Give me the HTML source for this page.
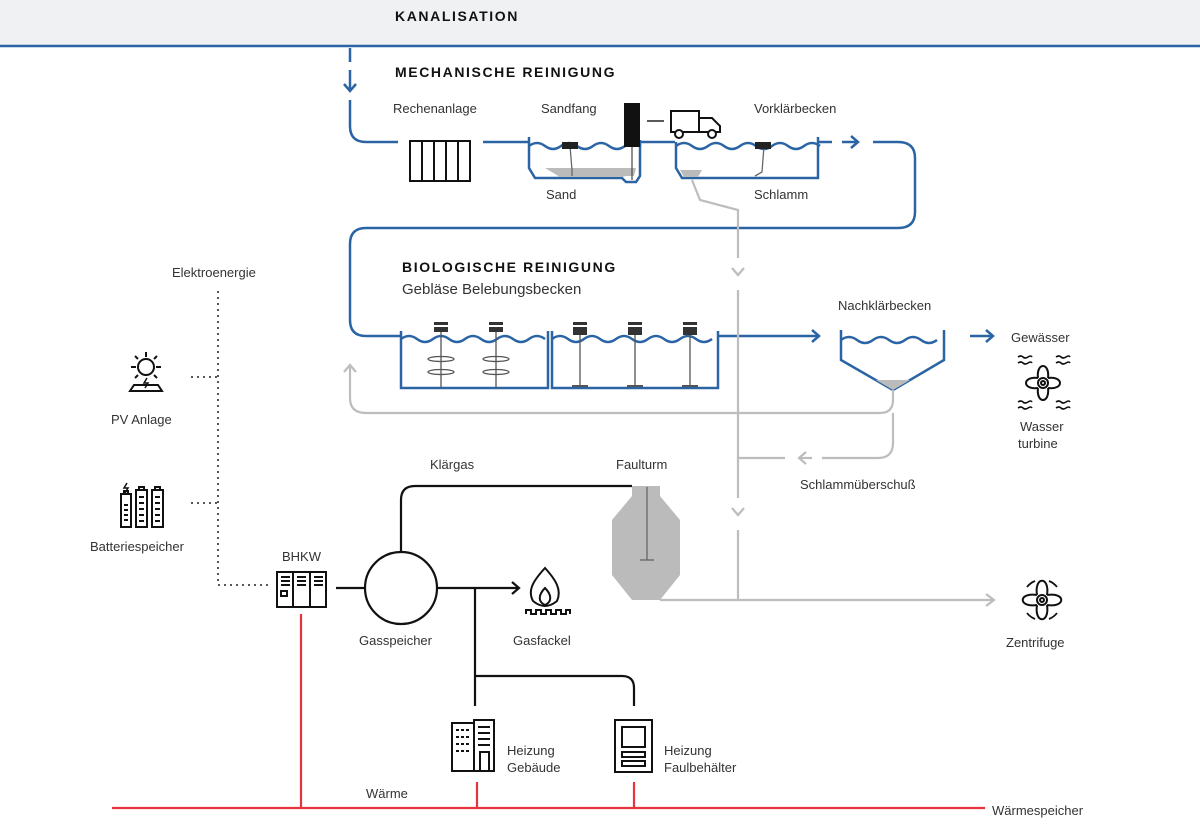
<!DOCTYPE html>
<html><head><meta charset="utf-8"><style>
html,body{margin:0;padding:0;background:#fff;}
svg{display:block;}
text{font-family:"Liberation Sans",sans-serif;font-size:13px;fill:#333;}
.h{font-weight:bold;font-size:14px;letter-spacing:1.6px;fill:#111;}
</style></head><body>
<svg width="1200" height="825" viewBox="0 0 1200 825" xmlns="http://www.w3.org/2000/svg">
<rect x="0" y="0" width="1200" height="46" fill="#eff1f2"/>
<line x1="0" y1="46" x2="1200" y2="46" stroke="#2a64a4" stroke-width="2.5"/>
<text x="395" y="21" class="h">KANALISATION</text>
<text x="395" y="77" class="h">MECHANISCHE REINIGUNG</text>
<text x="402" y="272" class="h">BIOLOGISCHE REINIGUNG</text>
<text x="402" y="294" style="font-size:15px">Gebläse Belebungsbecken</text>

<g fill="none" stroke="#2a64a4" stroke-width="2.5">
<line x1="350" y1="48" x2="350" y2="62"/>
<line x1="350" y1="70" x2="350" y2="90"/>
<polyline points="344,84 350,91 356,84"/>
<path d="M350 100 V126 Q350 142 366 142 H398"/>
<line x1="483" y1="142" x2="528" y2="142"/>
<line x1="640" y1="142" x2="675" y2="142"/>
<line x1="818" y1="142" x2="832" y2="142"/>
<line x1="842" y1="142" x2="856" y2="142"/>
<polyline points="851,136 858,142 851,148"/>
<path d="M873 142 H898 Q915 142 915 158 V212 Q915 228 898 228 H366 Q350 228 350 244 V320 Q350 336 366 336 H400"/>
<line x1="718" y1="336" x2="818" y2="336"/>
<polyline points="812,330 819,336 812,342"/>
<line x1="970" y1="336" x2="992" y2="336"/>
<polyline points="986,330 993,336 986,342"/>
<path d="M529 137 V168 L535 178 H622 L626 182 H636 L640 176 V140"/>
<path d="M529 146 q8 -6 16 0 t16 0 t16 0 t16 0 t16 0 t16 0 t16 0"/>
<path d="M676 142 V168 L682 178 H818 V137"/>
<path d="M676 146 q8 -6 16 0 t16 0 t16 0 t16 0 t16 0 t16 0 t16 0 t16 0 t16 0"/>
<path d="M401 331 V388 H548 V331"/>
<path d="M552 331 V388 H718 V331"/>
<path d="M401 339 q8 -6 16 0 t16 0 t16 0 t16 0 t16 0 t16 0 t16 0 t16 0 t16 0"/>
<path d="M552 339 q8 -6 16 0 t16 0 t16 0 t16 0 t16 0 t16 0 t16 0 t16 0 t16 0 t16 0"/>
<path d="M841 330 V360 L893 390 L944 360 V330"/>
<path d="M841 340 q8 -6 16 0 t16 0 t16 0 t16 0 t16 0 t16 0"/>
</g>
<path d="M545 168 H636 L634 176 H626 L622 177 H560 Z" fill="#bbb"/>
<path d="M680 170 H702 L698 177 H684 Z" fill="#bbb"/>
<path d="M876 380 H910 L893 390 Z" fill="#bbb"/>
<g stroke="#666" stroke-width="1.3" fill="none">
<polyline points="570,146 572,170 572,176"/>
<polyline points="764,146 762,172 755,176"/>
</g>
<rect x="562" y="142" width="16" height="7" fill="#222"/>
<rect x="755" y="142" width="16" height="7" fill="#222"/>
<rect x="624" y="103" width="16" height="44" fill="#111"/>
<line x1="632" y1="147" x2="632" y2="180" stroke="#555" stroke-width="1.3"/>
<line x1="647" y1="121" x2="664" y2="121" stroke="#222" stroke-width="1.5"/>
<g stroke="#111" stroke-width="2" fill="#fff">
<rect x="671" y="111" width="28" height="21"/>
<path d="M699 118 H712 L720 126 V132 H699 Z"/>
<circle cx="679" cy="134" r="4"/><circle cx="712" cy="134" r="4"/>
</g>
<g stroke="#111" stroke-width="2" fill="none">
<rect x="410" y="141" width="60" height="40"/>
<line x1="422" y1="141" x2="422" y2="181"/><line x1="434" y1="141" x2="434" y2="181"/>
<line x1="446" y1="141" x2="446" y2="181"/><line x1="458" y1="141" x2="458" y2="181"/>
</g>
<g stroke="#555" stroke-width="1.3" fill="none">
<line x1="441" y1="330" x2="441" y2="388"/><line x1="496" y1="330" x2="496" y2="388"/>
<ellipse cx="441" cy="359" rx="13" ry="2.5"/><ellipse cx="441" cy="372" rx="13" ry="2.5"/>
<ellipse cx="496" cy="359" rx="13" ry="2.5"/><ellipse cx="496" cy="372" rx="13" ry="2.5"/>
<line x1="580" y1="330" x2="580" y2="386"/><line x1="635" y1="330" x2="635" y2="386"/><line x1="690" y1="330" x2="690" y2="386"/>
<line x1="572" y1="386" x2="588" y2="386" stroke-width="2"/><line x1="627" y1="386" x2="643" y2="386" stroke-width="2"/><line x1="682" y1="386" x2="698" y2="386" stroke-width="2"/>
</g>
<g fill="#333">
<rect x="434" y="322" width="14" height="3"/><rect x="434" y="327" width="14" height="5"/>
<rect x="489" y="322" width="14" height="3"/><rect x="489" y="327" width="14" height="5"/>
<rect x="573" y="322" width="14" height="3"/><rect x="573" y="327" width="14" height="8"/>
<rect x="628" y="322" width="14" height="3"/><rect x="628" y="327" width="14" height="8"/>
<rect x="683" y="322" width="14" height="3"/><rect x="683" y="327" width="14" height="8"/>
</g>

<g fill="none" stroke="#bdbdbd" stroke-width="2.2">
<polyline points="692,180 700,200 738,210 738,258"/>
<polyline points="732,268 738,275 744,268"/>
<line x1="738" y1="290" x2="738" y2="498"/>
<polyline points="732,508 738,515 744,508"/>
<line x1="738" y1="530" x2="738" y2="600"/>
<path d="M893 390 V400 Q893 413 880 413 H366 Q350 413 350 398 V366"/>
<polyline points="344,372 350,365 356,372"/>
<path d="M893 413 V443 Q893 458 878 458 H822"/>
<line x1="812" y1="458" x2="800" y2="458"/>
<polyline points="806,452 799,458 806,464"/>
<line x1="785" y1="458" x2="738" y2="458"/>
<line x1="660" y1="600" x2="993" y2="600"/>
<polyline points="986,594 994,600 986,606"/>
</g>
<path d="M632 486 H660 V496 L680 520 V575 L660 600 H632 L612 575 V520 L632 496 Z" fill="#bbb"/>
<line x1="647" y1="487" x2="647" y2="560" stroke="#666" stroke-width="1.3"/>
<line x1="640" y1="560" x2="654" y2="560" stroke="#666" stroke-width="1.3"/>

<g fill="none" stroke="#111" stroke-width="2.2">
<circle cx="401" cy="588" r="36"/>
<path d="M401 552 V500 Q401 486 415 486 H632"/>
<line x1="336" y1="588" x2="365" y2="588"/>
<line x1="437" y1="588" x2="518" y2="588"/>
<polyline points="512,582 519,588 512,594"/>
<line x1="475" y1="588" x2="475" y2="706"/>
<path d="M475 676 H622 Q634 676 634 688 V706"/>
</g>
<g stroke="#e8323c" stroke-width="2.2">
<line x1="112" y1="808" x2="985" y2="808"/>
<line x1="301" y1="614" x2="301" y2="808"/>
<line x1="477" y1="782" x2="477" y2="808"/>
<line x1="634" y1="782" x2="634" y2="808"/>
</g>
<g stroke="#222" stroke-width="2" stroke-dasharray="0 6" stroke-linecap="round" fill="none">
<polyline points="218,292 218,585 272,585"/>
<line x1="192" y1="377" x2="218" y2="377"/>
<line x1="192" y1="503" x2="218" y2="503"/>
</g>

<g fill="none" stroke="#111" stroke-width="2">
<rect x="277" y="572" width="49" height="35"/>
<line x1="293" y1="572" x2="293" y2="607"/><line x1="310" y1="572" x2="310" y2="607"/>
<path d="M281 577h9M281 581h9M281 585h9M297 577h9M297 581h9M297 585h9M314 577h9M314 581h9M314 585h9"/>
<rect x="281" y="591" width="6" height="5"/>
<circle cx="146" cy="367" r="8"/>
<path d="M146 352v5M131 367h5M156 367h5M135 356l3 3M157 356l-3 3M135 378l3-3M157 378l-3-3"/>
<path d="M130 391 L134 385 H158 L162 391 Z"/>
<path d="M121 494 h10 v33 h-10 z M124 494 v-3 h4 v3"/>
<path d="M136 490 h11 v37 h-11 z M139 490 v-3 h5 v3"/>
<path d="M152 490 h11 v37 h-11 z M155 490 v-3 h5 v3"/>
<path d="M124 505h4M124 510h4M124 515h4M124 520h4M139 497h5M139 503h5M139 509h5M139 515h5M139 521h5M155 497h5M155 503h5M155 509h5M155 515h5M155 521h5"/>
<path d="M545 568 C534 580 527 590 533 601 Q545 611 557 601 C562 590 556 580 545 568 Z"/>
<path d="M545 588 C538 595 538 602 545 605 C552 602 552 595 545 588 Z"/>
<path d="M526 614 v-4 h5 v4 h5 v-4 h5 v4 h5 v-4 h5 v4 h5 v-4 h5 v4 h5 v-4 h4 v4"/>
<rect x="452" y="723" width="22" height="48"/>
<rect x="474" y="720" width="20" height="51"/>
<path d="M478 727h12M478 733h12M478 739h12M478 745h12"/>
<rect x="480" y="752" width="9" height="19"/>
<path d="M456 730h3M461 730h3M466 730h3M456 737h3M461 737h3M466 737h3M456 744h3M461 744h3M466 744h3M456 751h3M461 751h3M466 751h3"/>
<rect x="615" y="720" width="37" height="52"/>
<rect x="622" y="727" width="23" height="20"/>
<rect x="622" y="752" width="23" height="5"/>
<rect x="622" y="761" width="23" height="5"/>
<circle cx="1043" cy="383" r="5"/><circle cx="1043" cy="383" r="2"/>
<path d="M1038 378 C1036 362 1050 362 1048 378 M1038 388 C1036 404 1050 404 1048 388 M1038 378 C1022 376 1022 390 1038 388 M1048 378 C1064 376 1064 390 1048 388"/>
<path d="M1018 357q3-2 5 0t5 0t4 0M1018 363q3-2 5 0t5 0t4 0M1056 357q3-2 5 0t5 0t4 0M1056 363q3-2 5 0t5 0t4 0M1018 402q3-2 5 0t5 0t4 0M1018 408q3-2 5 0t5 0t4 0M1056 402q3-2 5 0t5 0t4 0M1056 408q3-2 5 0t5 0t4 0" stroke-width="1.6"/>
<circle cx="1042" cy="600" r="5"/><circle cx="1042" cy="600" r="2"/>
<path d="M1037 595 C1034 576 1050 576 1047 595 M1037 605 C1034 624 1050 624 1047 605 M1037 595 C1018 592 1018 608 1037 605 M1047 595 C1066 592 1066 608 1047 605"/>
<path d="M1027 587 a19 19 0 0 1 8 -6 M1057 587 a19 19 0 0 0 -8 -6 M1027 613 a19 19 0 0 0 8 6 M1057 613 a19 19 0 0 1 -8 6" stroke-width="1.8"/>
</g>
<path d="M147 378 l-3 5 h4 l-3 5" stroke="#111" stroke-width="1.5" fill="none"/>
<path d="M127 483 l-3 5 h4 l-3 5" stroke="#111" stroke-width="1.5" fill="none"/>

<text x="393" y="113">Rechenanlage</text>
<text x="541" y="113">Sandfang</text>
<text x="754" y="113">Vorklärbecken</text>
<text x="546" y="199">Sand</text>
<text x="754" y="199">Schlamm</text>
<text x="172" y="277">Elektroenergie</text>
<text x="838" y="310">Nachklärbecken</text>
<text x="1011" y="342">Gewässer</text>
<text x="1020" y="431">Wasser</text>
<text x="1018" y="448">turbine</text>
<text x="111" y="424">PV Anlage</text>
<text x="90" y="551">Batteriespeicher</text>
<text x="282" y="561">BHKW</text>
<text x="430" y="469">Klärgas</text>
<text x="616" y="469">Faulturm</text>
<text x="800" y="489">Schlammüberschuß</text>
<text x="359" y="645">Gasspeicher</text>
<text x="513" y="645">Gasfackel</text>
<text x="1006" y="647">Zentrifuge</text>
<text x="507" y="755">Heizung</text>
<text x="507" y="772">Gebäude</text>
<text x="664" y="755">Heizung</text>
<text x="664" y="772">Faulbehälter</text>
<text x="366" y="798">Wärme</text>
<text x="992" y="815">Wärmespeicher</text>
</svg>
</body></html>
